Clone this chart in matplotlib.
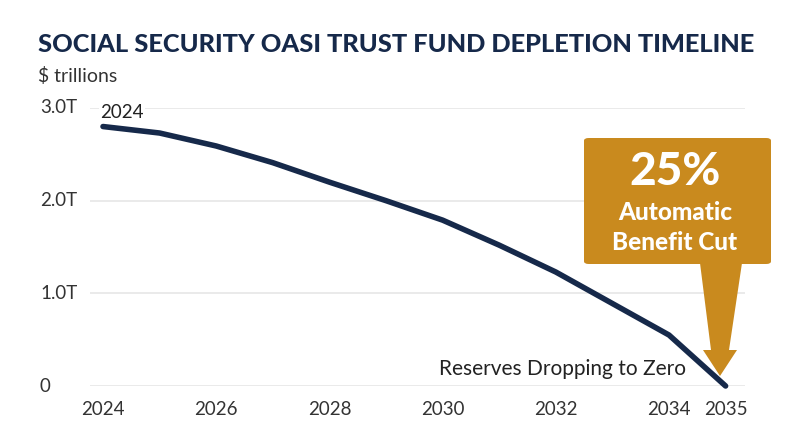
import matplotlib
matplotlib.use("Agg")
import matplotlib.pyplot as plt
from matplotlib.patches import FancyBboxPatch, Polygon

years = [2024, 2025, 2026, 2027, 2028, 2029, 2030, 2031, 2032, 2033, 2034, 2035]
reserves = [2.80, 2.73, 2.59, 2.41, 2.20, 2.00, 1.79, 1.52, 1.23, 0.89, 0.55, 0.0]
xticks = [2024, 2026, 2028, 2030, 2032, 2034, 2035]
yticks = [0, 1, 2, 3]
ylabels = ["0", "1.0T", "2.0T", "3.0T"]

navy = "#16294a"
gold = "#c98a1e"
plt.rcParams['font.family'] = ['Lato', 'DejaVu Sans']

fig = plt.figure(figsize=(8, 4.47), dpi=100)
W, H = 800, 447
ax = fig.add_axes([90/W, 1-386/H, (745-90)/W, (386-108)/H])
x0, x1 = 2024 - 13/56.6, 2024 + (745-103)/56.6
ax.set_xlim(x0, x1)
ax.set_ylim(0, 3.0)
for y in yticks:
    ax.axhline(y, color="#e6e6e6", lw=1.2, zorder=0)
ax.plot(years, reserves, color=navy, lw=4, solid_capstyle="round", zorder=3, clip_on=False)
for s in ax.spines.values():
    s.set_visible(False)
ax.set_xticks(xticks)
ax.set_xticklabels([str(t) for t in xticks], fontsize=13.5, color="#333333")
ax.tick_params(axis="x", length=0, pad=11)
ax.set_yticks([])
for y, l in zip(yticks, ylabels):
    ax.text(40/W, 1 - (386 - y*92.7)/H, l, transform=fig.transFigure, fontsize=13.5,
            color="#333333", ha="left", va="center")

fig.text(38/W, 1-44/H, "SOCIAL SECURITY OASI TRUST FUND DEPLETION TIMELINE",
         fontsize=18.3, fontweight="black", color=navy, ha="left", va="center")
fig.text(38/W, 1-76/H, "$ trillions", fontsize=14, color="#333333", ha="left", va="center")

fig.text(100/W, 1-112/H, "2024", fontsize=13.5, color="#222222", ha="left", va="center",
         bbox=dict(facecolor="white", edgecolor="none", pad=1))
ax.text(2034.3, 0.08, "Reserves Dropping to Zero", fontsize=15, color="#222222", ha="right", va="bottom")

def fx(px): return px / W
def fy(py): return 1 - py / H
box = FancyBboxPatch((fx(584), fy(264)), fx(771) - fx(584), fy(138) - fy(264),
                     boxstyle="round,pad=0,rounding_size=0.006", transform=fig.transFigure,
                     facecolor=gold, edgecolor="none", zorder=5)
fig.patches.append(box)
tri = Polygon([(fx(700), fy(263)), (fx(742), fy(263)), (fx(729), fy(350)), (fx(737), fy(350)),
               (fx(720), fy(376)), (fx(703), fy(350)), (fx(711), fy(350))],
              closed=True, transform=fig.transFigure, facecolor=gold, edgecolor="none", zorder=5)
fig.patches.append(tri)
fig.text(fx(675), fy(172), "25%", fontsize=33, fontweight="black", color="white", ha="center", va="center", zorder=10)
fig.text(fx(675), fy(212), "Automatic", fontsize=17.5, fontweight="black", color="white", ha="center", va="center", zorder=10)
fig.text(fx(675), fy(243), "Benefit Cut", fontsize=17.5, fontweight="black", color="white", ha="center", va="center", zorder=10)

fig.savefig("out.png", dpi=100)
